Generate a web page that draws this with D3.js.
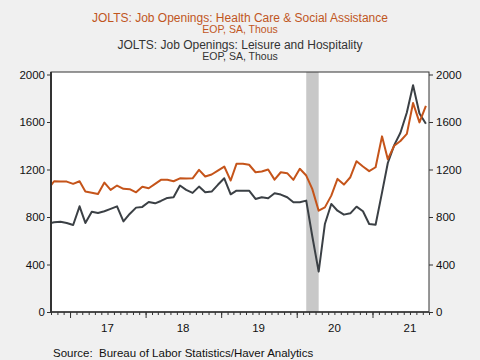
<!DOCTYPE html>
<html><head><meta charset="utf-8">
<script src="https://cdn.jsdelivr.net/npm/d3@7"></script>
<style>body{margin:0;background:#f0f0f0}svg{display:block}</style>
</head><body><svg id="c" width="480" height="360"></svg>
<script>
// Monthly data, Sep 2016 .. Sep 2021 (thousands)
const firstMonth = "2016-09";
const healthCare = [1032,
  1101,1098,1098,1079,1101,1014,1005,994,1090,1028,1065,1037,
  1034,1008,1054,1042,1079,1113,1113,1101,1126,1124,1126,1197,
  1141,1158,1191,1225,1107,1248,1248,1240,1177,1183,1200,1115,
  1177,1169,1113,1206,1149,1037,853,881,980,1121,1073,1135,
  1270,1225,1186,1219,1479,1287,1400,1440,1500,1760,1597,1735];
const leisure = [745,
  755,760,750,733,890,750,845,834,848,868,890,763,
  826,879,885,927,915,935,961,966,1065,1028,1003,1056,
  1008,1014,1071,1126,991,1022,1022,1022,952,966,958,1000,
  989,966,924,924,938,640,340,741,910,853,820,831,
  887,848,741,735,1005,1255,1405,1510,1680,1910,1671,1585];
const yTicks = [0,400,800,1200,1600,2000];
const yearLabels = ["17","18","19","20","21"];
const years = [2017,2018,2019,2020,2021];
const recession = ["2020-02","2020-04"];
const titles = [
  {text:"JOLTS: Job Openings: Health Care & Social Assistance", size:12, color:"#c0561e", y:21.5},
  {text:"EOP, SA, Thous", size:10.5, color:"#c0561e", y:33},
  {text:"JOLTS: Job Openings: Leisure and Hospitality", size:12, color:"#333333", y:48.5},
  {text:"EOP, SA, Thous", size:10.5, color:"#333333", y:60}
];
const source = "Source:  Bureau of Labor Statistics/Haver Analytics";

const FONT = "'Liberation Sans', Arial, sans-serif";
const svg = d3.select("#c");
const L = 51, R = 429, T = 72, B = 312;

const parseM = s => { const [y,m] = s.split("-").map(Number); return new Date(Date.UTC(y, m-1, 16)); };
const start = parseM(firstMonth);
const dates = healthCare.map((_, i) => d3.utcMonth.offset(start, i));

const x = d3.scaleUtc().domain([new Date(Date.UTC(2016,9,1)), new Date(Date.UTC(2021,9,1))]).range([L, R]);
const y = d3.scaleLinear().domain([0, 2000]).range([B, 74.5]);

svg.append("rect").attr("width",480).attr("height",360).attr("fill","#f0f0f0");
svg.append("rect").attr("x",L).attr("y",T).attr("width",R-L).attr("height",B-T).attr("fill","#ffffff");

svg.append("clipPath").attr("id","clip").append("rect")
  .attr("x",L).attr("y",T).attr("width",R-L).attr("height",B-T);

// recession shading
svg.append("rect")
  .attr("x", x(parseM(recession[0])))
  .attr("width", x(parseM(recession[1])) - x(parseM(recession[0])))
  .attr("y", T).attr("height", B-T).attr("fill", "#c8c8c8");

const line = d3.line().x((d,i) => x(dates[i])).y(d => y(d));
const g = svg.append("g").attr("clip-path","url(#clip)");
g.append("path").datum(leisure).attr("d", line).attr("fill","none")
  .attr("stroke","#3b4045").attr("stroke-width",2).attr("stroke-linejoin","round");
g.append("path").datum(healthCare).attr("d", line).attr("fill","none")
  .attr("stroke","#c5541a").attr("stroke-width",2).attr("stroke-linejoin","round");

// frame
svg.append("rect").attr("x",L).attr("y",T).attr("width",R-L).attr("height",B-T)
  .attr("fill","none").attr("stroke","#333").attr("stroke-width",1);
svg.append("line").attr("x1",L).attr("x2",L).attr("y1",T).attr("y2",B)
  .attr("stroke","#333").attr("stroke-width",2);

// y axes
const fmt = d3.format("d");
const yl = svg.append("g").attr("transform",`translate(${L},0)`)
  .call(d3.axisLeft(y).tickValues(yTicks).tickFormat(fmt).tickSize(4).tickPadding(2));
const yr = svg.append("g").attr("transform",`translate(${R},0)`)
  .call(d3.axisRight(y).tickValues(yTicks).tickFormat(fmt).tickSize(4).tickPadding(3));
[yl, yr].forEach(a => {
  a.select(".domain").remove();
  a.selectAll("line").attr("stroke","#333");
  a.selectAll("text").attr("font-family",FONT).attr("font-size",11.5).attr("fill","#111");
});

// x axis: minor monthly, major yearly ticks
const months = d3.utcMonth.range(x.domain()[0], d3.utcDay.offset(x.domain()[1],1));
const xMinor = svg.append("g").attr("transform",`translate(0,${B})`)
  .call(d3.axisBottom(x).tickValues(months).tickSize(3).tickFormat(""));
const xMajor = svg.append("g").attr("transform",`translate(0,${B})`)
  .call(d3.axisBottom(x).tickValues(years.map(yy => new Date(Date.UTC(yy,0,1)))).tickSize(6).tickFormat(""));
[xMinor, xMajor].forEach(a => { a.select(".domain").remove(); a.selectAll("line").attr("stroke","#333"); });
svg.append("line").attr("x1",L).attr("x2",R).attr("y1",B).attr("y2",B).attr("stroke","#333").attr("stroke-width",1.5);

svg.append("g").selectAll("text").data(yearLabels).join("text")
  .attr("x",(d,i) => x(new Date(Date.UTC(years[i],6,1))))
  .attr("y",332).attr("text-anchor","middle")
  .attr("font-family",FONT).attr("font-size",11.5).attr("fill","#111").text(d => d);

// titles
svg.append("g").selectAll("text").data(titles).join("text")
  .attr("x",240).attr("y",d => d.y).attr("text-anchor","middle")
  .attr("font-family",FONT).attr("font-size",d => d.size).attr("fill",d => d.color).text(d => d.text);

svg.append("text").attr("x",53).attr("y",357).attr("font-family",FONT).attr("font-size",11.5)
  .attr("fill","#111").attr("xml:space","preserve").style("white-space","pre").text(source);
</script></body></html>
